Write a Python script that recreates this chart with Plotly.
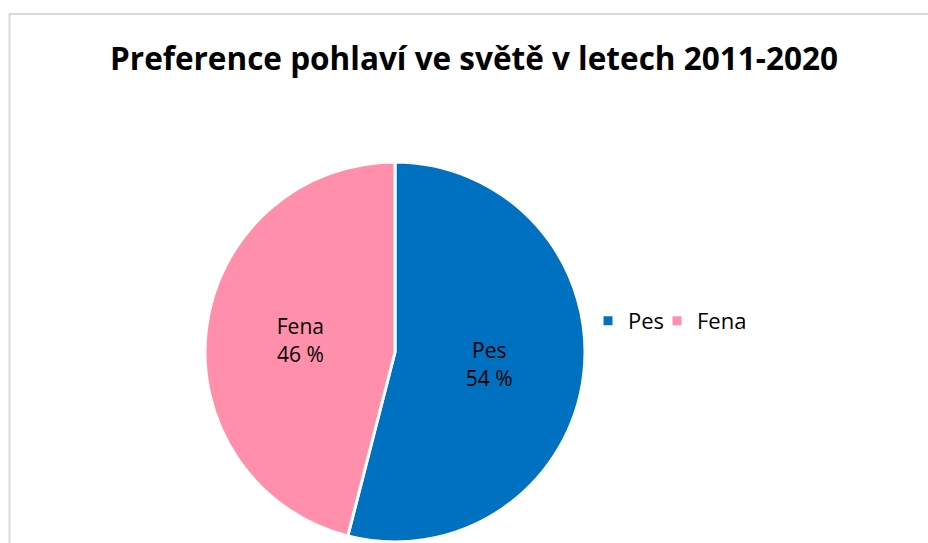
import plotly.graph_objects as go

categories = ["Pes", "Fena"]
shares = [54, 46]
colors = ["#0070C0", "#FF8FAB"]
title_text = "Preference pohlaví ve světě v letech 2011-2020"

W, H = 928, 543

fig = go.Figure(go.Pie(
    labels=categories,
    values=shares,
    sort=False,
    direction="clockwise",
    rotation=0,
    marker=dict(colors=colors, line=dict(color="white", width=3)),
    texttemplate="%{label}<br>%{value} %",
    textposition="inside",
    insidetextorientation="horizontal",
    textfont=dict(family="Open Sans", size=21, color="black"),
    hoverinfo="label+percent",
    domain=dict(x=[205 / W, 585 / W], y=[1 / H, 1 - 162 / H]),
))

bx = 9.5 / W
by = 1 - 14 / H
fig.update_layout(
    width=W, height=H,
    margin=dict(l=0, r=0, t=0, b=0),
    paper_bgcolor="white",
    title=dict(text="<b>" + title_text + "</b>", x=474 / W, xanchor="center",
               y=1 - 59 / H, yanchor="middle",
               font=dict(family="Open Sans", size=31.5, color="black")),
    legend=dict(orientation="h", x=588 / W, xanchor="left", y=1 - 321 / H, yanchor="middle",
                font=dict(family="Open Sans", size=22, color="black"),
                itemwidth=30, entrywidth=24, entrywidthmode="pixels",
                traceorder="normal"),
    shapes=[dict(type="path", xref="paper", yref="paper",
                 path=f"M {bx},0 L {bx},{by} L 1,{by}",
                 line=dict(color="#D9D9D9", width=2), layer="below")],
)

fig.write_html(
    "out.html",
    config={"displayModeBar": False},
    post_script=(
        "document.documentElement.style.overflow='hidden';"
        "document.body.style.margin='0';document.body.style.overflow='hidden';"
        "document.querySelectorAll('.legend .scrollbox, .legend').forEach(function(e){"
        "e.removeAttribute('clip-path');e.style.clipPath='none';});"
    ),
)
